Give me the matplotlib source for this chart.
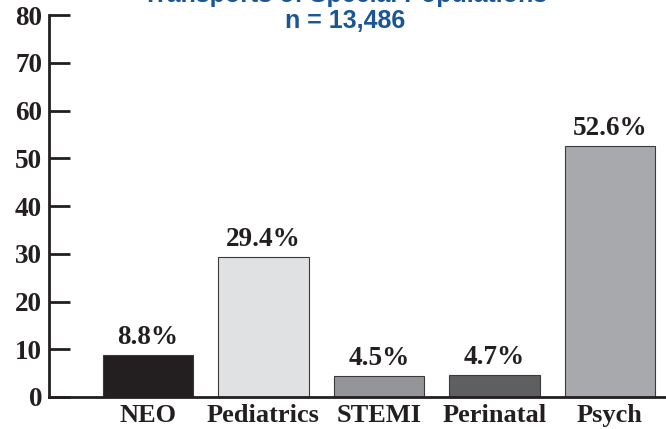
import matplotlib
matplotlib.use("Agg")
import matplotlib.pyplot as plt

categories = ["NEO", "Pediatrics", "STEMI", "Perinatal", "Psych"]
values = [8.8, 29.4, 4.5, 4.7, 52.6]
labels = ["8.8%", "29.4%", "4.5%", "4.7%", "52.6%"]
colors = ["#231f20", "#e0e1e3", "#939598", "#5e5f61", "#a7a9ac"]
yticks = [0, 10, 20, 30, 40, 50, 60, 70, 80]
title_line1 = "Transports of Special Populations"
title_line2 = "n = 13,486"

fig = plt.figure(figsize=(6.66, 4.29), dpi=100)
ax = fig.add_axes([0.0736, 0.0746, 0.9264, 0.890])

serif = ["Liberation Serif", "DejaVu Serif"]
x = list(range(len(categories)))
bars = ax.bar(x, values, width=0.78, color=colors, edgecolor="#3a3a3a", linewidth=0.8, zorder=2)
for xi, v, lab in zip(x, values, labels):
    ax.text(xi, v + 1.0, lab, ha="center", va="bottom", fontsize=19.5,
            fontweight="bold", family=serif, color="#231f20")

ax.set_xlim(-0.857, 4.485)
ax.set_ylim(0, 80)
ax.set_yticks(yticks)
ax.set_yticklabels([str(t) for t in yticks], fontsize=19.5, fontweight="bold", family=serif, color="#231f20")
ax.set_xticks(x)
ax.set_xticklabels(categories, fontsize=19, fontweight="bold", family=serif, color="#231f20")
ax.tick_params(axis="y", direction="in", length=15, width=2, color="#231f20", pad=5)
ax.tick_params(axis="x", length=0, pad=5)
for s in ["top", "right"]:
    ax.spines[s].set_visible(False)
for s in ["left", "bottom"]:
    ax.spines[s].set_linewidth(2)
    ax.spines[s].set_color("#231f20")

sans = ["Liberation Sans", "DejaVu Sans"]
fig.text(0.518, 1.011, title_line1, ha="center", va="center", fontsize=18,
         fontweight="bold", family=sans, color="#1a5596")
fig.text(0.518, 0.952, title_line2, ha="center", va="center", fontsize=18,
         fontweight="bold", family=sans, color="#1a5596")

fig.savefig("out.png", dpi=100)
